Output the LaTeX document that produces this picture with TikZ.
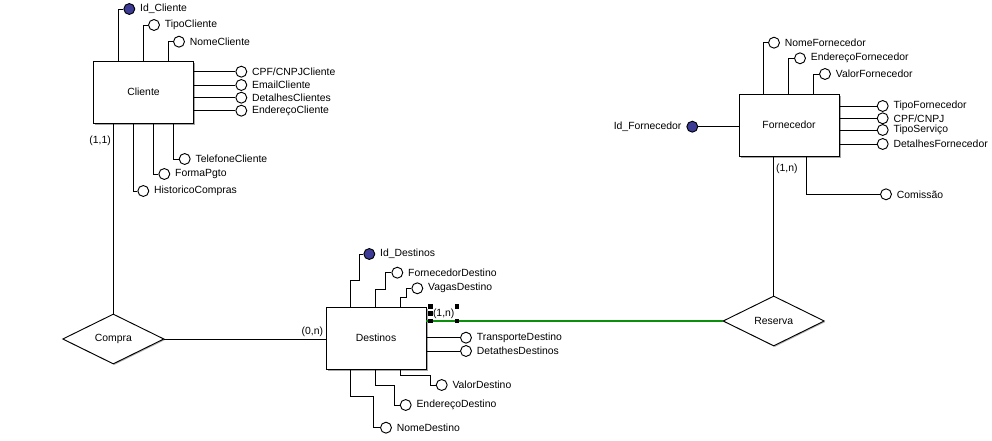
\documentclass[tikz,border=0pt]{standalone}
\usepackage{fontspec}
\setmainfont{Liberation Sans}
\usetikzlibrary{shapes.geometric,shadows,calc,positioning}
\definecolor{erkey}{HTML}{3C3C96}
\definecolor{erlink}{HTML}{0A900A}

\begin{document}
\begin{tikzpicture}[
  x=0.75pt, y=-0.75pt,
  line width=0.7pt,
  font=\fontsize{7.8}{9}\selectfont,
  entity/.style={
    draw,
    fill=white,
    minimum width=75pt,
    minimum height=46.5pt,
    drop shadow={shadow xshift=1.2pt,shadow yshift=-1.2pt,fill=gray!70,opacity=1}
  },
  relation/.style={
    diamond,
    draw,
    fill=white,
    aspect=2.05,
    minimum width=76pt,
    minimum height=37.5pt,
    inner sep=0pt,
    drop shadow={shadow xshift=0.8pt,shadow yshift=-0.8pt,fill=gray!60,opacity=1}
  },
  attr/.style={circle,draw,fill=white,minimum size=8.2pt,inner sep=0pt},
  keyattr/.style={attr,fill=erkey},
  edge/.style={line width=0.7pt},
  card/.style={inner sep=1.5pt},
  handle/.style={fill=black,minimum size=3.4pt,inner sep=0pt}
]
\useasboundingbox (0,0) rectangle (992,441);

% entidades e relacionamentos
\node[entity] (cli) at (143.5,92) {Cliente};
\node[entity] (des) at (376,338) {Destinos};
\node[entity] (forn) at (789,125) {Fornecedor};
\node[relation] (compra) at (113.3,339) {Compra};
\node[relation] (reserva) at (773.7,321) {Reserva};

% atributos Cliente
\node[keyattr,label=right:Id\_Cliente] (idcli) at (129.3,9) {};
\node[attr,label=right:TipoCliente] (tipcli) at (154,25) {};
\node[attr,label=right:NomeCliente] (nomcli) at (179,41.7) {};
\node[attr,label=right:CPF/CNPJCliente] (cpfcli) at (241.3,71.7) {};
\node[attr,label=right:EmailCliente] (emacli) at (241.3,85) {};
\node[attr,label=right:DetalhesClientes] (detcli) at (241.3,97.7) {};
\node[attr,label=right:EndereçoCliente] (endcli) at (241.3,110.7) {};
\node[attr,label=right:TelefoneCliente] (telcli) at (184.7,159) {};
\node[attr,label=right:FormaPgto] (pgtcli) at (164.3,174) {};
\node[attr,label=right:HistoricoCompras] (hiscli) at (143.3,191) {};

% atributos Destinos
\node[keyattr,label=right:Id\_Destinos] (iddes) at (369.3,254) {};
\node[attr,label=right:FornecedorDestino] (fordes) at (397.3,272.7) {};
\node[attr,label=right:VagasDestino] (vagdes) at (417.3,288.3) {};
\node[attr,label=right:TransporteDestino] (tradesc) at (466,337.7) {};
\node[attr,label=right:DetathesDestinos] (detdes) at (466,351) {};
\node[attr,label=right:ValorDestino] (valdes) at (441.7,385) {};
\node[attr,label=right:EndereçoDestino] (enddes) at (405.7,405) {};
\node[attr,label=right:NomeDestino] (nomdes) at (386,427.7) {};

% atributos Fornecedor
\node[keyattr,label=left:Id\_Fornecedor] (idforn) at (692.3,126.7) {};
\node[attr,label=right:NomeFornecedor] (nomforn) at (774,42.7) {};
\node[attr,label=right:EndereçoFornecedor] (endforn) at (800,58.3) {};
\node[attr,label=right:ValorFornecedor] (valforn) at (825,74) {};
\node[attr,label=right:TipoFornecedor] (tipforn) at (882.7,106) {};
\node[attr,label=right:CPF/CNPJ] (cpfforn) at (882.7,118.3) {};
\node[attr,label=right:TipoServiço] (serforn) at (882.7,130) {};
\node[attr,label=right:DetalhesFornecedor] (detforn) at (882.7,144) {};
\node[attr,label=right:Comissão] (comforn) at (886,194.3) {};

% ligacoes Cliente
\draw[edge] (idcli.west) -| ($(cli.north west)+(25,0)$);
\draw[edge] (tipcli.west) -| ($(cli.north west)+(50,0)$);
\draw[edge] (nomcli.west) -| ($(cli.north west)+(75,0)$);
\foreach \a in {cpfcli,emacli,detcli,endcli}
  \draw[edge] (\a.west) -- (\a.west -| cli.east);
\draw[edge] (telcli.west) -| ($(cli.south west)+(80,0)$);
\draw[edge] (pgtcli.west) -| ($(cli.south west)+(60,0)$);
\draw[edge] (hiscli.west) -| ($(cli.south west)+(40,0)$);

% ligacoes Destinos
\draw[edge] ($(des.north west)+(25,0)$) |- ++(9,-26) |- (iddes.west);
\draw[edge] ($(des.north west)+(50,0)$) |- ++(10,-17) |- (fordes.west);
\draw[edge] ($(des.north west)+(75,0)$) |- ++(6,-9) |- (vagdes.west);
\foreach \a in {tradesc,detdes}
  \draw[edge] (\a.west) -- (\a.west -| des.east);
\draw[edge] ($(des.south west)+(75,0)$) |- ++(30,6) |- (valdes.west);
\draw[edge] ($(des.south west)+(50,0)$) |- ++(19,16) |- (enddes.west);
\draw[edge] ($(des.south west)+(25,0)$) |- ++(23,27) |- (nomdes.west);

% ligacoes Fornecedor
\draw[edge] (idforn.east) -- (idforn.east -| forn.west);
\draw[edge] (nomforn.west) -| ($(forn.north west)+(25,0)$);
\draw[edge] (endforn.west) -| ($(forn.north west)+(50,0)$);
\draw[edge] (valforn.west) -| ($(forn.north west)+(75,0)$);
\foreach \a in {tipforn,cpfforn,serforn,detforn}
  \draw[edge] (\a.west) -- (\a.west -| forn.east);
\draw[edge] (comforn.west) -| ($(forn.south west)+(68,0)$);

% relacionamentos
\draw[edge] (compra.north |- cli.south) -- node[card,left,pos=0.09] (c11) {(1,1)} (compra.north);
\draw[edge] (compra.east) -- (compra.east -| des.west) node[card,pos=1,above left] (c0n) {(0,n)};
\draw[edge] (forn.south -| reserva.north) -- node[card,right,pos=0.09] (c1nforn) {(1,n)} (reserva.north);
\draw[draw=erlink,line width=0.8pt] (reserva.west -| des.east) -- (reserva.west)
  node[card,pos=0,above right,xshift=3pt,text=black] (c1ndes) {(1,n)};
\foreach \h/\n in {north west/a,west/b,south west/c,north east/d,south east/e}
  \node[handle] (hdl\n) at (c1ndes.\h) {};
\end{tikzpicture}
\end{document}
